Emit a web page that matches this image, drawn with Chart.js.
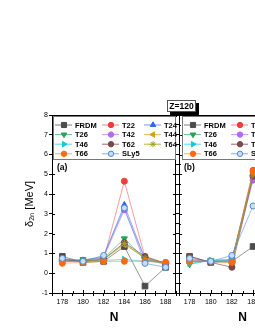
<!DOCTYPE html>
<html>
<head>
<meta charset="utf-8">
<script src="https://cdn.jsdelivr.net/npm/chart.js@4.4.1/dist/chart.umd.min.js"></script>
<style>
  html, body { margin: 0; padding: 0; background: #fff; overflow: hidden; }
  #wrap { position: relative; width: 255px; height: 330px; overflow: hidden; }
  #ca { position: absolute; left: 0; top: 0; }
  #cb { position: absolute; left: 170px; top: 0; }
  #ztag {
    position: absolute; left: 167px; top: 100px; width: 27px; height: 10px;
    border: 1px solid #555; background: #fff; box-shadow: 3px 3px 0 #000;
    font: bold 8.5px "Liberation Sans", Arial, sans-serif; line-height: 10px;
    text-align: center; color: #000;
  }
</style>
</head>
<body>
<div id="wrap">
  <canvas id="ca" width="181" height="330"></canvas>
  <canvas id="cb" width="160" height="330"></canvas>
  <div id="ztag">Z=120</div>
</div>
<script>
// ---- data ----
const seriesNames = ['FRDM', 'T22', 'T24', 'T26', 'T42', 'T44', 'T46', 'T62', 'T64', 'T66', 'SLy5'];

// panel (a)
const nA = [178, 180, 182, 184, 186, 188];
const frdmA = [0.85, 0.55, 0.6, 1.35, -0.65, 0.3];
const t22A  = [0.6, 0.65, 0.7, 4.65, 0.8, 0.5];
const t24A  = [0.7, 0.65, 0.85, 3.45, 0.7, 0.45];
const t26A  = [0.6, 0.7, 0.75, 1.75, 0.7, 0.5];
const t42A  = [0.65, 0.6, 0.8, 3.2, 0.75, 0.5];
const t44A  = [0.6, 0.6, 0.7, 1.45, 0.8, 0.5];
const t46A  = [0.6, 0.6, 0.65, 0.7, 0.6, 0.55];
const t62A  = [0.7, 0.6, 0.7, 1.55, 0.85, 0.5];
const t64A  = [0.6, 0.6, 0.7, 1.5, 0.75, 0.5];
const t66A  = [0.5, 0.55, 0.6, 0.6, 0.6, 0.55];
const sly5A = [0.75, 0.6, 0.9, 3.3, 0.5, 0.3];

// panel (b) (only the visible part)
const nB = [178, 180, 182, 184];
const frdmB = [0.85, 0.55, 0.6, 1.35];
const t22B  = [0.7, 0.6, 0.6, 5.2];
const t24B  = [0.6, 0.6, 0.65, 4.9];
const t26B  = [0.45, 0.65, 0.7, 5.0];
const t42B  = [0.65, 0.6, 0.6, 4.7];
const t44B  = [0.6, 0.6, 0.6, 4.95];
const t46B  = [0.5, 0.65, 0.65, 5.0];
const t62B  = [0.85, 0.55, 0.3, 4.9];
const t64B  = [0.6, 0.6, 0.55, 5.0];
const t66B  = [0.6, 0.6, 0.55, 5.15];
const sly5B = [0.75, 0.6, 0.9, 3.4];

const valuesA = [frdmA, t22A, t24A, t26A, t42A, t44A, t46A, t62A, t64A, t66A, sly5A];
const valuesB = [frdmB, t22B, t24B, t26B, t42B, t44B, t46B, t62B, t64B, t66B, sly5B];

// ---- styles ----
const FONT = '"Liberation Sans", Arial, sans-serif';
const styles = [
  { c: '#4d4d4d', line: 'rgba(90,90,90,0.8)',    ps: 'rect',     rot: 0,   r: 4 },
  { c: '#f03c3c', line: 'rgba(240,80,80,0.7)',   ps: 'circle',   rot: 0,   r: 3 },
  { c: '#2e63e6', line: 'rgba(60,110,230,0.7)',  ps: 'triangle', rot: 0,   r: 3.5 },
  { c: '#2aa35a', line: 'rgba(42,163,90,0.7)',   ps: 'triangle', rot: 180, r: 3.5 },
  { c: '#b36bf0', line: 'rgba(179,107,240,0.7)', ps: 'circle',   rot: 0,   r: 3 },
  { c: '#d4a017', line: 'rgba(212,160,23,0.7)',  ps: 'triangle', rot: -90, r: 3.5 },
  { c: '#10c8d8', line: 'rgba(16,200,216,0.7)',  ps: 'triangle', rot: 90,  r: 3.5 },
  { c: '#7a4a4a', line: 'rgba(122,74,74,0.8)',   ps: 'circle',   rot: 0,   r: 3 },
  { c: '#a0a020', line: 'rgba(160,160,32,0.8)',  ps: 'star',     rot: 0,   r: 3.5 },
  { c: '#ff6a10', line: 'rgba(255,106,16,0.6)',  ps: 'circle',   rot: 0,   r: 3 },
  { c: '#4a8ad8', line: 'rgba(74,138,216,0.7)',  ps: 'circle',   rot: 0,   r: 3, fill: '#c8dcf4' }
];

function makeDatasets(nVals, valueLists) {
  return seriesNames.map((name, i) => {
    const s = styles[i];
    return {
      label: name,
      data: nVals.map((n, k) => ({ x: n, y: valueLists[i][k] })),
      borderColor: s.line,
      borderWidth: 0.8,
      backgroundColor: s.fill || s.c,
      pointBackgroundColor: s.fill || s.c,
      pointBorderColor: s.c,
      pointBorderWidth: 1,
      pointStyle: s.ps,
      pointRotation: s.rot,
      pointRadius: s.r,
      order: seriesNames.length - i,
      tension: 0
    };
  });
}

// frame: top + right edges with inward ticks, legend box, panel letter
const framePlugin = {
  id: 'frame',
  afterDraw(chart, args, opts) {
    const { ctx, chartArea: a, scales } = chart;
    ctx.save();
    ctx.strokeStyle = '#000';
    ctx.lineWidth = 1;
    ctx.beginPath();
    ctx.moveTo(a.left, a.top + 0.5); ctx.lineTo(a.right, a.top + 0.5);
    ctx.moveTo(a.right - 0.5, a.top); ctx.lineTo(a.right - 0.5, a.bottom);
    // top ticks
    scales.x.ticks.forEach(t => {
      const x = Math.round(scales.x.getPixelForValue(t.value)) + 0.5;
      const len = t.value % 2 === 0 ? 3 : 2;
      ctx.moveTo(x, a.top); ctx.lineTo(x, a.top + len);
      ctx.moveTo(x, a.bottom); ctx.lineTo(x, a.bottom - len);
    });
    // right + left inner ticks
    scales.y.ticks.forEach(t => {
      const y = Math.round(scales.y.getPixelForValue(t.value)) + 0.5;
      const len = Number.isInteger(t.value) ? 3 : 2;
      ctx.moveTo(a.right, y); ctx.lineTo(a.right - len, y);
      ctx.moveTo(a.left, y); ctx.lineTo(a.left + len, y);
    });
    ctx.stroke();

    // legend
    const L = a.left + opts.legendLeft, T = a.top + 1;
    const W = a.right - 1 - L, H = 43;
    ctx.fillStyle = '#fff';
    ctx.fillRect(L, T, W, H);
    ctx.strokeStyle = '#777';
    ctx.strokeRect(L + 0.5, T + 0.5, W, H);
    const colX = [2, 49, 91];
    ctx.font = 'bold 7.5px ' + FONT;
    ctx.textBaseline = 'middle';
    chart.data.datasets.forEach((ds, i) => {
      const row = Math.floor(i / 3), col = i % 3;
      const x0 = L + colX[col], y = T + 9 + row * 9.6;
      ctx.strokeStyle = ds.borderColor;
      ctx.lineWidth = 1;
      ctx.beginPath(); ctx.moveTo(x0, y); ctx.lineTo(x0 + 17, y); ctx.stroke();
      ctx.fillStyle = ds.pointBackgroundColor;
      ctx.strokeStyle = ds.pointBorderColor;
      Chart.helpers.drawPoint(ctx, {
        pointStyle: ds.pointStyle, rotation: ds.pointRotation,
        radius: ds.pointRadius * 0.9, borderWidth: 1
      }, x0 + 9, y);
      ctx.fillStyle = '#000';
      ctx.fillText(ds.label, x0 + 20, y + 0.5);
    });

    // panel letter
    ctx.font = 'bold 8.5px ' + FONT;
    ctx.fillStyle = '#000';
    ctx.fillText(opts.letter, a.left + 5, 168);
    ctx.restore();
  }
};

function xScale() {
  return {
    type: 'linear', min: 177, max: 189,
    afterFit: s => { s.height = 37; },
    ticks: {
      stepSize: 1, autoSkip: false, maxRotation: 0, padding: 2, color: '#000',
      font: { size: 7, family: FONT },
      callback: v => (v % 2 === 0 ? String(v) : '')
    },
    grid: { drawOnChartArea: false, tickLength: 3, color: '#000' },
    border: { color: '#000', width: 1 },
    title: {
      display: true, text: 'N', color: '#000',
      font: { size: 12, weight: 'bold', family: FONT },
      padding: { top: 0, bottom: 5 }
    }
  };
}

function yScale(withLabels, width) {
  return {
    min: -1, max: 8,
    afterFit: s => { s.width = width; },
    ticks: {
      display: withLabels, stepSize: 0.5, padding: 1, color: '#000',
      font: { size: 7, family: FONT },
      callback: v => (Number.isInteger(v) ? String(v) : '')
    },
    grid: { drawOnChartArea: false, tickLength: 3, color: '#000' },
    border: { color: '#000', width: 1 },
    title: {
      display: withLabels, text: 'δ₂ₙ [MeV]', color: '#000',
      font: { size: 11, family: FONT },
      padding: { top: 23, bottom: 0 }
    }
  };
}

function makeChart(id, nVals, values, yWidth, withLabels, rightPad, letter, legendLeft) {
  return new Chart(document.getElementById(id), {
    type: 'line',
    data: { datasets: makeDatasets(nVals, values) },
    options: {
      responsive: false,
      animation: false,
      layout: { padding: { top: 115, right: rightPad, left: 0, bottom: 0 } },
      plugins: {
        legend: { display: false },
        tooltip: { enabled: false },
        frame: { letter, legendLeft }
      },
      scales: { x: xScale(), y: yScale(withLabels, yWidth) }
    },
    plugins: [framePlugin]
  });
}

makeChart('ca', nA, valuesA, 52, true, 2, '(a)', 1);
makeChart('cb', nB, valuesB, 9, false, 24, '(b)', 3);
</script>
</body>
</html>
